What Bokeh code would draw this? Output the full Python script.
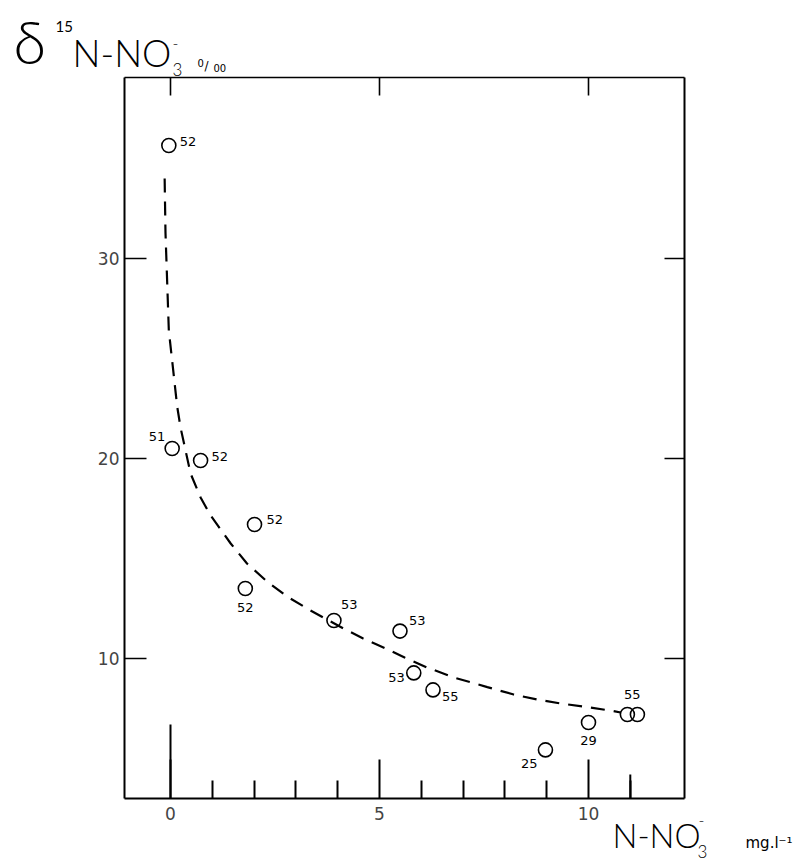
from bokeh.plotting import figure
from bokeh.models import LinearAxis, FixedTicker, Label, Range1d, ColumnDataSource
from bokeh.core.properties import value
from bokeh.embed import file_html
from bokeh.resources import INLINE

# --- data -------------------------------------------------------------
# nitrate concentration (mg/l N-NO3-) and delta 15N of nitrate (per mil)
no3 = [-0.04, 0.04, 0.72, 2.01, 1.79, 3.91, 5.49, 5.82, 6.28, 8.97, 10.0, 10.93, 11.17]
d15n = [35.65, 20.5, 19.9, 16.7, 13.5, 11.9, 11.37, 9.28, 8.43, 5.43, 6.8, 7.2, 7.2]
sample = ["52", "51", "52", "52", "52", "53", "53", "53", "55", "25", "29", "55", ""]

# fitted trend (dashed)
curve_x = [-0.14, -0.12, -0.04, 0.16, 0.24, 0.48, 0.72, 0.96, 1.44, 1.83, 2.31,
           2.79, 3.35, 4.14, 4.61, 5.2, 5.6, 6.14, 6.78, 7.58, 8.21, 8.77, 9.33,
           9.97, 10.6, 10.77]
curve_y = [34.0, 31.3, 26.4, 22.6, 21.55, 19.25, 18.05, 17.15, 15.75, 14.75, 13.85,
           13.1, 12.4, 11.5, 11.0, 10.45, 10.05, 9.55, 9.05, 8.57, 8.2, 7.95, 7.75,
           7.57, 7.37, 7.3]

y_ticks = [10, 20, 30]
x_ticks = [0, 5, 10]
x_minor = [1, 2, 3, 4, 6, 7, 8, 9, 11]
top_ticks = [0, 5, 10]
long_ticks = [0, 11]

# --- label placement (pixels) ----------------------------------------
label_dx = [11, -7, 11, 12, 0, 7, 9, -9, 9, -8, 0, 5, 0]
label_dy = [-4, -12, -4, -5, 19, -16, -11, 5, 7, 14, 18, -20, 0]
label_align = ["left", "right", "left", "left", "center", "left", "left",
               "right", "left", "right", "center", "center", "center"]

W, H = 807, 864
PX_PER_X, PX_PER_Y = 41.8, 20.0
ORIGIN_PX, ORIGIN_PY = 170, 858   # page position of (0, 0)


def px_x(px):
    return (px - ORIGIN_PX) / PX_PER_X


def px_y(py):
    return (ORIGIN_PY - py) / PX_PER_Y


# box edges in data units
X0, X1 = px_x(124), px_x(684)
Y0, Y1 = px_y(798), px_y(77)

# the frame spans the whole page; the box is built from fixed-location axes
p = figure(width=W, height=H, output_backend="svg", toolbar_location=None,
           x_range=Range1d(px_x(0), px_x(W)), y_range=Range1d(px_y(H), px_y(0)),
           x_axis_location=None, y_axis_location=None,
           min_border=0, min_border_left=0, min_border_right=0,
           min_border_top=0, min_border_bottom=0,
           background_fill_color="white", border_fill_color="white")
p.title.visible = False
p.xgrid.grid_line_color = None
p.ygrid.grid_line_color = None
p.outline_line_color = None

AX_FONT = "DejaVu Sans"

left = LinearAxis(ticker=FixedTicker(ticks=y_ticks), fixed_location=X0,
                  bounds=(Y0, Y1),
                  major_tick_in=22, major_tick_out=0,
                  minor_tick_in=0, minor_tick_out=0,
                  axis_line_width=2, major_tick_line_width=1.4,
                  major_label_text_font=AX_FONT, major_label_text_font_size="17px",
                  major_label_standoff=5)
p.add_layout(left, "left")

# right and top edges carry unlabelled ticks only (drawn as minor ticks)
right = LinearAxis(ticker=FixedTicker(ticks=[], minor_ticks=y_ticks),
                   fixed_location=X1, bounds=(Y0, Y1),
                   major_tick_in=0, major_tick_out=0,
                   minor_tick_in=20, minor_tick_out=0,
                   axis_line_width=2, minor_tick_line_width=1.4)
p.add_layout(right, "right")

top = LinearAxis(ticker=FixedTicker(ticks=[], minor_ticks=top_ticks),
                 fixed_location=Y1, bounds=(X0, X1),
                 major_tick_in=0, major_tick_out=0,
                 minor_tick_in=18, minor_tick_out=0,
                 axis_line_width=1.4, minor_tick_line_width=1.6)
p.add_layout(top, "above")

bottom = LinearAxis(ticker=FixedTicker(ticks=x_ticks, minor_ticks=x_minor),
                    fixed_location=Y0, bounds=(X0, X1),
                    major_tick_in=39, major_tick_out=0,
                    minor_tick_in=18, minor_tick_out=0,
                    axis_line_width=2, major_tick_line_width=2,
                    minor_tick_line_width=2,
                    major_label_text_font=AX_FONT, major_label_text_font_size="17px",
                    major_label_standoff=8)
p.add_layout(bottom, "below")

# the origin tick and the last minor tick are drawn taller
p.segment(x0=long_ticks, x1=long_ticks, y0=[Y0, Y0],
          y1=[Y0 + 74 / PX_PER_Y, Y0 + 24 / PX_PER_Y], line_color="black", line_width=2)

# trend
p.line(curve_x, curve_y, line_color="black", line_width=2.2, line_dash="14 9")

src = ColumnDataSource(dict(x=no3, y=d15n))
p.scatter("x", "y", source=src, marker="circle", size=14, fill_color=None,
          line_color="black", line_width=1.6)

# sample numbers next to the points (unlabelled duplicates skipped)
keep = [i for i, s in enumerate(sample) if s]
lab = ColumnDataSource(dict(x=[no3[i] for i in keep], y=[d15n[i] for i in keep],
                            s=[sample[i] for i in keep],
                            dx=[label_dx[i] for i in keep],
                            dy=[label_dy[i] for i in keep],
                            al=[label_align[i] for i in keep]))
p.text("x", "y", text="s", source=lab, x_offset="dx", y_offset="dy",
       text_align="al", text_baseline="middle", text_color="black",
       text_font=value("DejaVu Sans"), text_font_size="13px")


# axis titles, placed in page pixels (py = baseline)
def title(txt, px, py, size, font="Lato Light", style="normal"):
    p.add_layout(Label(x=px_x(px), y=px_y(py - 0.4 * size), text=txt, text_font=font,
                       text_font_size=f"{size}px", text_font_style=style,
                       text_baseline="alphabetic", text_align="left",
                       text_color="black"))


title("δ", 13, 64, 60)
title("15", 55, 32, 15, "Lato")
title("N-NO", 72, 67, 37)
title("3", 172, 76, 17)
title("-", 172, 49, 16)
title("0", 197, 66, 10, "DejaVu Sans")
title("/", 204, 70, 12, "DejaVu Sans")
title("00", 213, 71, 10, "DejaVu Sans")

title("N-NO", 612, 848, 33)
title("3", 697, 858, 17)
title("-", 698, 826, 16)
title("mg.l⁻¹", 745, 848, 15, "DejaVu Sans")

open("out.html", "w").write(file_html(p, INLINE))
